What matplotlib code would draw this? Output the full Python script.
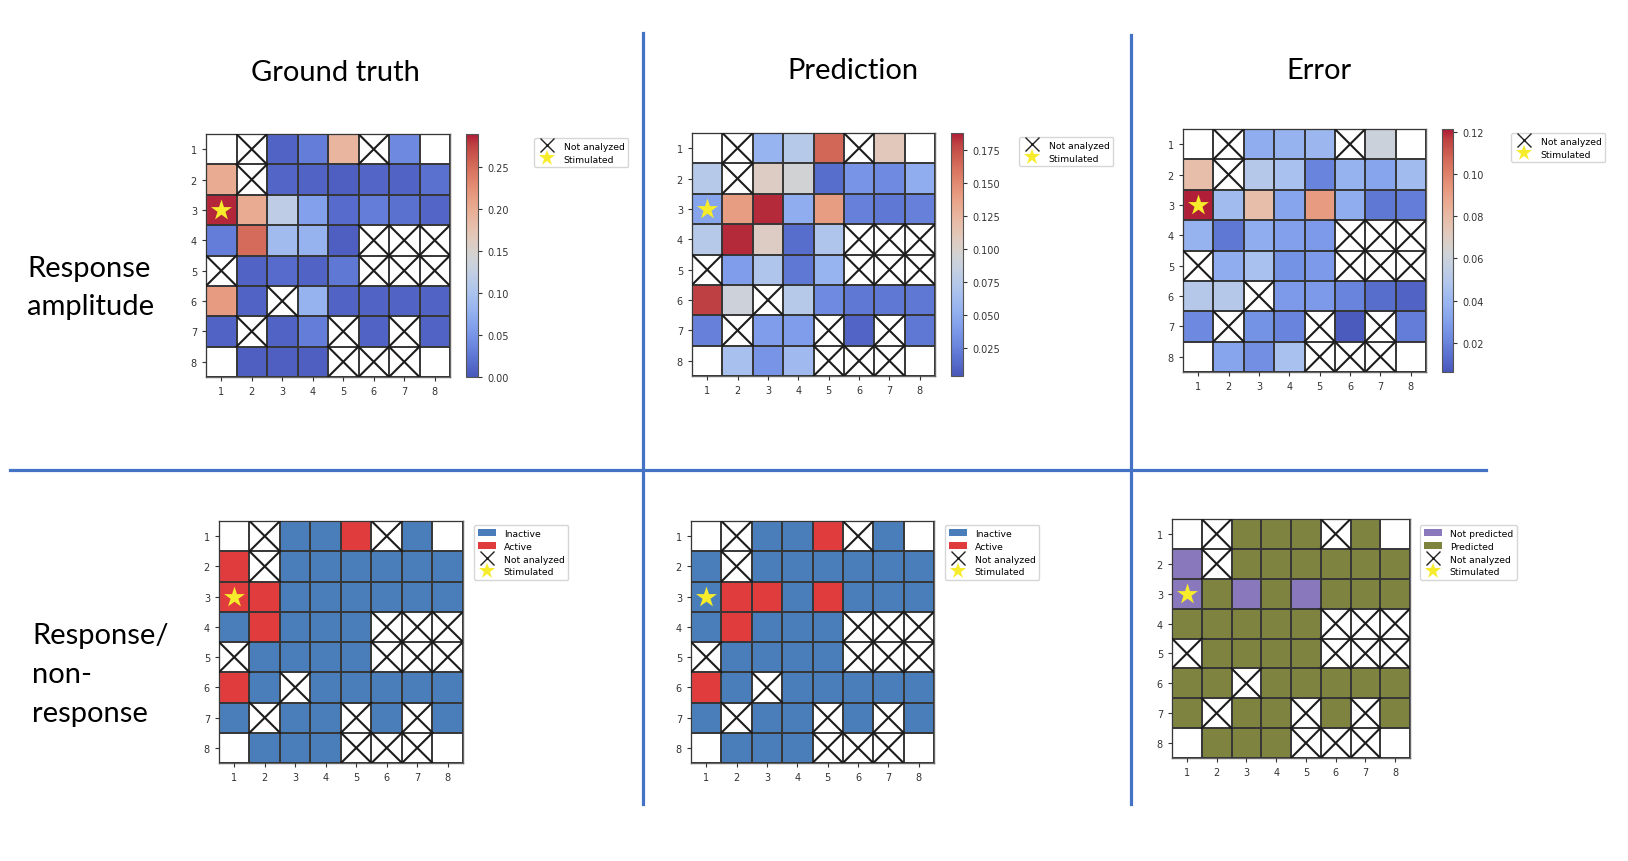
import numpy as np
import matplotlib
matplotlib.use('Agg')
import matplotlib.pyplot as plt
from matplotlib.colors import ListedColormap
from matplotlib.lines import Line2D
from matplotlib.patches import Patch

W, H = 1628, 862
n = np.nan

# cells (col, row) that were not analyzed; corners (1,1),(8,1),(1,8),(8,8) are simply empty
not_analyzed = [(2, 1), (6, 1), (2, 2), (6, 4), (7, 4), (8, 4), (1, 5), (6, 5), (7, 5), (8, 5),
                (3, 6), (2, 7), (5, 7), (7, 7), (5, 8), (6, 8), (7, 8)]
stimulated = (1, 3)

# response amplitude, rows 1..8
gt_amp = [[n, n, 0.010, 0.030, 0.190, n, 0.040, n],
          [0.200, n, 0.012, 0.010, 0.006, 0.012, 0.010, 0.020],
          [0.285, 0.200, 0.120, 0.060, 0.015, 0.030, 0.020, 0.012],
          [0.030, 0.250, 0.090, 0.080, 0.006, n, n, n],
          [n, 0.010, 0.015, 0.010, 0.025, n, n, n],
          [0.215, 0.010, n, 0.080, 0.010, 0.010, 0.010, 0.010],
          [0.010, n, 0.010, 0.030, n, 0.010, n, 0.010],
          [n, 0.006, 0.006, 0.006, n, n, n, n]]

pred_amp = [[n, n, 0.055, 0.075, 0.165, n, 0.110, n],
            [0.075, n, 0.105, 0.095, 0.015, 0.035, 0.030, 0.050],
            [0.045, 0.140, 0.185, 0.050, 0.140, 0.025, 0.020, 0.025],
            [0.075, 0.185, 0.105, 0.015, 0.070, n, n, n],
            [n, 0.040, 0.070, 0.020, 0.055, n, n, n],
            [0.180, 0.090, n, 0.075, 0.030, 0.020, 0.020, 0.020],
            [0.025, n, 0.040, 0.040, n, 0.010, n, 0.020],
            [n, 0.065, 0.035, 0.060, n, n, n, n]]

err_amp = [[n, n, 0.035, 0.038, 0.040, n, 0.060, n],
           [0.078, n, 0.050, 0.045, 0.020, 0.038, 0.032, 0.042],
           [0.121, 0.042, 0.078, 0.032, 0.092, 0.035, 0.016, 0.018],
           [0.038, 0.016, 0.035, 0.030, 0.028, n, n, n],
           [n, 0.035, 0.045, 0.025, 0.028, n, n, n],
           [0.050, 0.050, n, 0.028, 0.028, 0.020, 0.013, 0.010],
           [0.022, n, 0.025, 0.020, n, 0.007, n, 0.018],
           [n, 0.032, 0.024, 0.045, n, n, n, n]]

# response / non-response (1 = active, 0 = inactive)
gt_bin = [[n, n, 0, 0, 1, n, 0, n],
          [1, n, 0, 0, 0, 0, 0, 0],
          [1, 1, 0, 0, 0, 0, 0, 0],
          [0, 1, 0, 0, 0, n, n, n],
          [n, 0, 0, 0, 0, n, n, n],
          [1, 0, n, 0, 0, 0, 0, 0],
          [0, n, 0, 0, n, 0, n, 0],
          [n, 0, 0, 0, n, n, n, n]]

pred_bin = [[n, n, 0, 0, 1, n, 0, n],
            [0, n, 0, 0, 0, 0, 0, 0],
            [0, 1, 1, 0, 1, 0, 0, 0],
            [0, 1, 0, 0, 0, n, n, n],
            [n, 0, 0, 0, 0, n, n, n],
            [1, 0, n, 0, 0, 0, 0, 0],
            [0, n, 0, 0, n, 0, n, 0],
            [n, 0, 0, 0, n, n, n, n]]

# 0 = not predicted, 1 = predicted
err_bin = [[n, n, 1, 1, 1, n, 1, n],
           [0, n, 1, 1, 1, 1, 1, 1],
           [0, 1, 0, 1, 0, 1, 1, 1],
           [1, 1, 1, 1, 1, n, n, n],
           [n, 1, 1, 1, 1, n, n, n],
           [1, 1, n, 1, 1, 1, 1, 1],
           [1, n, 1, 1, n, 1, n, 1],
           [n, 1, 1, 1, n, n, n, n]]

col_labels = ['Ground truth', 'Prediction', 'Error']
row_labels = ['Response\namplitude', 'Response/\nnon-\nresponse']

blue, red = '#4a7ebb', '#e03b3d'
purple, olive = '#8a78bd', '#7e843f'
star_col = '#f6ec2b'
sep_col = '#4472c4'
title_font = 'Lato'

# coolwarm, a little muted towards gray like the original
cw = plt.get_cmap('coolwarm')(np.linspace(0, 1, 256))
cw[:, :3] = 0.85 * cw[:, :3] + 0.15 * 0.6
amp_cmap = ListedColormap(cw)

fig = plt.figure(figsize=(W / 100, H / 100), dpi=100)


def px_axes(l, t, r, b):
    return fig.add_axes([l / W, 1 - b / H, (r - l) / W, (b - t) / H])


def draw_grid(ax, data, cmap, vmin, vmax):
    edges = np.arange(0.5, 9.5, 1)
    m = ax.pcolormesh(edges, edges, np.ma.masked_invalid(np.array(data, dtype=float)),
                      cmap=cmap, vmin=vmin, vmax=vmax, zorder=1)
    ax.set_xlim(0.5, 8.5)
    ax.set_ylim(8.5, 0.5)
    ax.set_xticks(range(1, 9))
    ax.set_yticks(range(1, 9))
    ax.set_xticks(edges, minor=True)
    ax.set_yticks(edges, minor=True)
    ax.grid(which='minor', color='#363636', lw=1.4)
    ax.grid(which='major', visible=False)
    ax.set_axisbelow(False)
    ax.tick_params(which='minor', length=0)
    ax.tick_params(which='major', labelsize=7, length=3, width=0.8, colors='#333')
    for s in ax.spines.values():
        s.set_color('#666')
        s.set_linewidth(1)
    for c, r in not_analyzed:
        ax.plot([c - 0.5, c + 0.5], [r - 0.5, r + 0.5], color='#1c1c1c', lw=1.5, zorder=3)
        ax.plot([c - 0.5, c + 0.5], [r + 0.5, r - 0.5], color='#1c1c1c', lw=1.5, zorder=3)
    ax.scatter([stimulated[0]], [stimulated[1]], marker='*', s=250, color=star_col, zorder=4, linewidths=0)
    return m


def add_legend(handles, labels, x, y):
    fig.legend(handles, labels, loc='upper left', bbox_to_anchor=(x / W, 1 - y / H),
               fontsize=6.7, frameon=True, borderaxespad=0, handlelength=2.0,
               handletextpad=0.8, labelspacing=0.42, borderpad=0.4, edgecolor='#cccccc',
               fancybox=True)


x_h = Line2D([], [], marker='x', ls='none', color='#222', markersize=10, markeredgewidth=1.0)
s_h = Line2D([], [], marker='*', ls='none', color=star_col, markersize=12, markeredgewidth=0)

# amplitude row
amp_sets = [(gt_amp, 0.0, 0.289, [0, 0.05, 0.10, 0.15, 0.20, 0.25],
             (206, 135, 450, 378), (466, 135, 478, 378), (534, 139)),
            (pred_amp, 0.0035, 0.188, [0.025, 0.05, 0.075, 0.10, 0.125, 0.15, 0.175],
             (692, 134, 935, 377), (951, 134, 963, 377), (1019, 138)),
            (err_amp, 0.006, 0.1216, [0.02, 0.04, 0.06, 0.08, 0.10, 0.12],
             (1183, 130, 1426, 373), (1442, 130, 1453, 373), (1511, 134))]
fmts = ['%.2f', '%.3f', '%.2f']
for (data, vmin, vmax, ticks, gbox, cbox, lpos), fmt in zip(amp_sets, fmts):
    ax = px_axes(*gbox)
    m = draw_grid(ax, data, amp_cmap, vmin, vmax)
    cax = px_axes(*cbox)
    cb = fig.colorbar(m, cax=cax, ticks=ticks, format=fmt)
    cb.ax.tick_params(labelsize=7, length=3, width=0.8, colors='#333')
    cb.outline.set_edgecolor('#555')
    add_legend([x_h, s_h], ['Not analyzed', 'Stimulated'], *lpos)

# binary row
bin_sets = [(gt_bin, [blue, red], ['Inactive', 'Active'], (219, 522, 463, 764), (474, 526)),
            (pred_bin, [blue, red], ['Inactive', 'Active'], (691, 522, 934, 764), (945, 526)),
            (err_bin, [purple, olive], ['Not predicted', 'Predicted'], (1172, 520, 1410, 759), (1420, 526))]
for data, cols, labs, gbox, lpos in bin_sets:
    ax = px_axes(*gbox)
    draw_grid(ax, data, ListedColormap(cols), 0, 1)
    handles = [Patch(facecolor=cols[0]), Patch(facecolor=cols[1]), x_h, s_h]
    add_legend(handles, labs + ['Not analyzed', 'Stimulated'], *lpos)

# headings
for lab, x, y in zip(col_labels, [335, 853, 1319], [73, 71, 71]):
    fig.text(x / W, 1 - y / H, lab, ha='center', va='center', fontsize=21, family=title_font)
for lab, x, y in zip(row_labels, [27, 32], [288, 675]):
    fig.text(x / W, 1 - y / H, lab, ha='left', va='center', fontsize=21, family=title_font,
             linespacing=1.6)

# separator lines
for x0, y0, y1 in [(643, 34, 805), (1131, 36, 805)]:
    fig.add_artist(Line2D([x0 / W, x0 / W], [1 - y0 / H, 1 - y1 / H], color=sep_col, lw=2.3))
fig.add_artist(Line2D([10 / W, 1486 / W], [1 - 471 / H, 1 - 471 / H], color=sep_col, lw=2.3))

fig.savefig('out.png', dpi=100)
